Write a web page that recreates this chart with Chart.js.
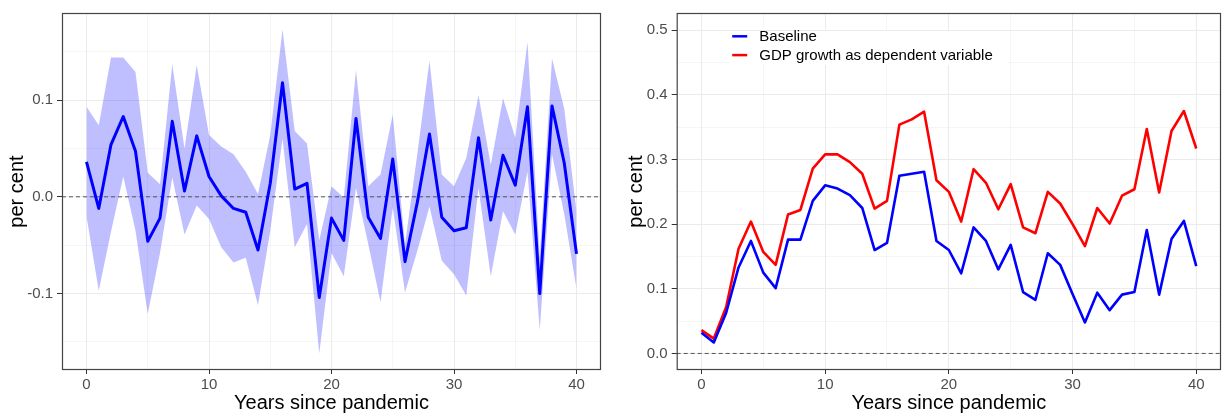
<!DOCTYPE html>
<html>
<head>
<meta charset="utf-8">
<script src="https://cdn.jsdelivr.net/npm/chart.js@4.4.0/dist/chart.umd.min.js"></script>
<style>
  html, body { margin: 0; padding: 0; background: #fff; }
  #wrap { position: relative; width: 1223px; height: 415px; }
  #leftChart { position: absolute; left: 0; top: 0; }
  #rightChart { position: absolute; left: 610px; top: 0; }
</style>
</head>
<body>
<div id="wrap">
  <canvas id="leftChart" width="605" height="415"></canvas>
  <canvas id="rightChart" width="613" height="415"></canvas>
</div>
<script>
// data
const years = [0, 1, 2, 3, 4, 5, 6, 7, 8, 9, 10, 11, 12, 13, 14, 15, 16, 17, 18, 19, 20,
  21, 22, 23, 24, 25, 26, 27, 28, 29, 30, 31, 32, 33, 34, 35, 36, 37, 38, 39, 40];

const estimate = [0.036, -0.012, 0.054, 0.083, 0.047, -0.046, -0.022, 0.078, 0.006, 0.063,
  0.021, 0.001, -0.012, -0.016, -0.055, 0.014, 0.118, 0.008, 0.014, -0.104,
  -0.022, -0.045, 0.081, -0.021, -0.043, 0.039, -0.067, -0.006, 0.065, -0.021,
  -0.035, -0.032, 0.061, -0.024, 0.043, 0.012, 0.093, -0.100, 0.094, 0.035, -0.059];
const upperBand = [0.093, 0.074, 0.144, 0.144, 0.129, 0.025, 0.013, 0.137, 0.050, 0.136,
  0.064, 0.052, 0.044, 0.026, 0.003, 0.064, 0.173, 0.068, 0.055, -0.045,
  0.011, -0.001, 0.131, 0.011, 0.023, 0.085, -0.049, 0.044, 0.141, 0.023,
  0.011, 0.040, 0.105, 0.033, 0.102, 0.061, 0.160, -0.063, 0.143, 0.091, -0.015];
const lowerBand = [-0.020, -0.097, -0.036, 0.021, -0.035, -0.121, -0.058, 0.020, -0.039, -0.009,
  -0.023, -0.052, -0.068, -0.063, -0.112, -0.035, 0.060, -0.052, -0.028, -0.162,
  -0.058, -0.082, 0.009, -0.049, -0.109, -0.011, -0.099, -0.056, -0.010, -0.066,
  -0.080, -0.102, 0.009, -0.082, -0.015, -0.039, 0.026, -0.138, 0.044, -0.018, -0.095];

const baseline = [0.032, 0.017, 0.063, 0.133, 0.174, 0.125, 0.101, 0.176, 0.176, 0.236,
  0.260, 0.255, 0.245, 0.225, 0.160, 0.171, 0.275, 0.278, 0.281, 0.174,
  0.160, 0.124, 0.195, 0.174, 0.130, 0.168, 0.095, 0.083, 0.155, 0.137,
  0.092, 0.048, 0.094, 0.067, 0.091, 0.095, 0.191, 0.091, 0.177, 0.205, 0.135];
const gdpGrowth = [0.036, 0.023, 0.072, 0.162, 0.204, 0.157, 0.137, 0.215, 0.222, 0.286,
  0.308, 0.308, 0.296, 0.278, 0.224, 0.236, 0.354, 0.362, 0.374, 0.268,
  0.250, 0.204, 0.285, 0.264, 0.223, 0.262, 0.195, 0.186, 0.250, 0.232,
  0.200, 0.166, 0.225, 0.201, 0.244, 0.254, 0.347, 0.249, 0.344, 0.375, 0.317];

const seriesLabels = ['Baseline', 'GDP growth as dependent variable'];

const xLimits = [-2, 42];
const xTicks = [0, 5, 10, 15, 20, 25, 30, 35, 40];
const yLimitsLeft = [-0.179, 0.19];
const yTicksLeft = [-0.15, -0.1, -0.05, 0, 0.05, 0.1, 0.15];
const yLimitsRight = [-0.0256, 0.5266];
const yTicksRight = [0, 0.05, 0.1, 0.15, 0.2, 0.25, 0.3, 0.35, 0.4, 0.45, 0.5];

Chart.defaults.font.family = "'Liberation Sans', Arial, sans-serif";
Chart.defaults.animation = false;

const isMajorY = v => Math.abs(v * 10 - Math.round(v * 10)) < 1e-9;
const isMajorX = v => v % 10 === 0;

// ggplot-like panel border
const panelBorder = {
  id: 'panelBorder',
  afterDraw(chart) {
    const { ctx, chartArea: a } = chart;
    ctx.save();
    ctx.strokeStyle = '#444';
    ctx.lineWidth = 1.2;
    ctx.strokeRect(a.left + 0.5, a.top + 0.5, a.right - a.left - 1, a.bottom - a.top - 1);
    ctx.restore();
  }
};

// legend inside the panel, top-left
const insideLegend = {
  id: 'insideLegend',
  afterDatasetsDraw(chart) {
    const { ctx, chartArea: a } = chart;
    const items = chart.data.datasets.filter(d => d.label);
    ctx.save();
    ctx.fillStyle = '#fff';
    ctx.fillRect(a.left + 53, a.top + 18, 278, 34);
    ctx.font = "15px 'Liberation Sans', Arial, sans-serif";
    ctx.textBaseline = 'middle';
    items.forEach((d, i) => {
      const y = a.top + 23.3 + i * 18.8;
      ctx.strokeStyle = d.borderColor;
      ctx.lineWidth = 2.5;
      ctx.beginPath();
      ctx.moveTo(a.left + 55.5, y);
      ctx.lineTo(a.left + 70.5, y);
      ctx.stroke();
      ctx.fillStyle = '#000';
      ctx.fillText(d.label, a.left + 82.6, y + 0.5);
    });
    ctx.restore();
  }
};

function axes(yLimits, yTicks, yWidth, yTitlePad) {
  return {
    x: {
      type: 'linear',
      min: xLimits[0],
      max: xLimits[1],
      afterBuildTicks: s => { s.ticks = xTicks.map(v => ({ value: v })); },
      afterFit: s => { s.height = 45; },
      ticks: {
        autoSkip: false,
        maxRotation: 0,
        padding: 2,
        color: '#4d4d4d',
        font: { size: 15 },
        callback: v => isMajorX(v) ? String(v) : ''
      },
      grid: {
        color: '#ebebeb',
        lineWidth: c => isMajorX(c.tick.value) ? 1 : 0.5,
        tickColor: c => isMajorX(c.tick.value) ? '#333' : 'rgba(0,0,0,0)',
        tickLength: 4
      },
      border: { display: false },
      title: {
        display: true,
        text: 'Years since pandemic',
        color: '#000',
        font: { size: 20 },
        padding: { top: 0, bottom: 0 }
      }
    },
    y: {
      min: yLimits[0],
      max: yLimits[1],
      afterBuildTicks: s => { s.ticks = yTicks.map(v => ({ value: v })); },
      afterFit: s => { s.width = yWidth; },
      ticks: {
        autoSkip: false,
        padding: 4,
        color: '#4d4d4d',
        font: { size: 15 },
        callback: v => isMajorY(v) ? v.toFixed(1) : ''
      },
      grid: {
        color: '#ebebeb',
        lineWidth: c => isMajorY(c.tick.value) ? 1 : 0.5,
        tickColor: c => isMajorY(c.tick.value) ? '#333' : 'rgba(0,0,0,0)',
        tickLength: 5
      },
      border: { display: false },
      title: {
        display: true,
        text: 'per cent',
        color: '#000',
        font: { size: 20 },
        padding: { top: yTitlePad, bottom: 0 }
      }
    }
  };
}

const zeroLine = {
  label: '',
  data: [{ x: xLimits[0], y: 0 }, { x: xLimits[1], y: 0 }],
  borderColor: '#555',
  borderWidth: 1,
  borderDash: [4, 3],
  pointRadius: 0,
  order: 1
};

new Chart(document.getElementById('leftChart'), {
  type: 'line',
  data: {
    labels: years,
    datasets: [
      {
        label: '',
        data: upperBand,
        borderWidth: 0,
        backgroundColor: 'rgba(0, 0, 255, 0.25)',
        fill: '+1',
        pointRadius: 0,
        order: 2
      },
      {
        label: '',
        data: lowerBand,
        borderWidth: 0,
        fill: false,
        pointRadius: 0,
        order: 2
      },
      { ...zeroLine },
      {
        label: '',
        data: estimate,
        borderColor: '#0000ff',
        borderWidth: 3,
        borderJoinStyle: 'round',
        fill: false,
        pointRadius: 0,
        order: 0
      }
    ]
  },
  options: {
    responsive: false,
    layout: { padding: { top: 11, right: 4, left: 0, bottom: 0 } },
    plugins: { legend: { display: false }, tooltip: { enabled: false } },
    scales: axes(yLimitsLeft, yTicksLeft, 62, 5)
  },
  plugins: [panelBorder]
});

new Chart(document.getElementById('rightChart'), {
  type: 'line',
  data: {
    labels: years,
    datasets: [
      { ...zeroLine },
      {
        label: seriesLabels[0],
        data: baseline,
        borderColor: '#0000ff',
        borderWidth: 2.6,
        borderJoinStyle: 'round',
        fill: false,
        pointRadius: 0,
        order: 0
      },
      {
        label: seriesLabels[1],
        data: gdpGrowth,
        borderColor: '#ff0000',
        borderWidth: 2.6,
        borderJoinStyle: 'round',
        fill: false,
        pointRadius: 0,
        order: 0
      }
    ]
  },
  options: {
    responsive: false,
    layout: { padding: { top: 11, right: 2, left: 0, bottom: 0 } },
    plugins: { legend: { display: false }, tooltip: { enabled: false } },
    scales: axes(yLimitsRight, yTicksRight, 66.7, 14.7)
  },
  plugins: [panelBorder, insideLegend]
});
</script>
</body>
</html>
